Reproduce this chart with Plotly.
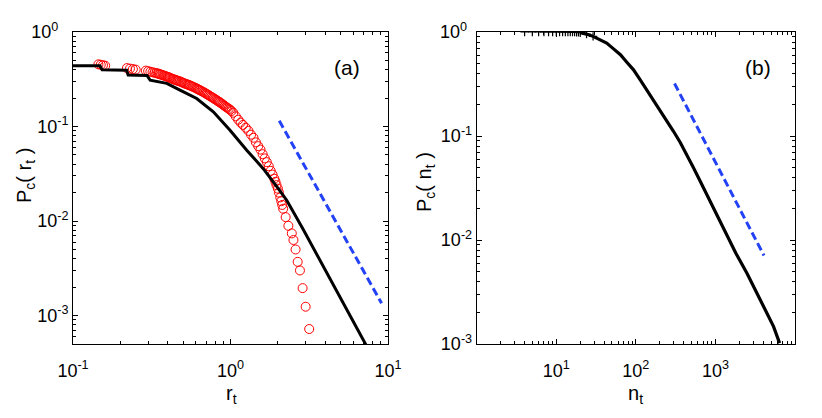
import plotly.graph_objects as go

# ---------------- Panel (a) data ----------------
rt_line = [0.100, 0.148, 0.153, 0.219, 0.224, 0.295, 0.309, 0.394, 0.478, 0.610,
           0.778, 0.993, 1.268, 1.614, 1.995, 2.275, 2.897, 3.981, 5.623, 7.244]
pc_rt_line = [0.440, 0.440, 0.398, 0.394, 0.350, 0.347, 0.309, 0.286, 0.243, 0.198,
              0.143, 0.0914, 0.0561, 0.0358, 0.0224, 0.0166, 0.00813, 0.00309, 0.00107, 0.00049]

rt_circ = [0.145, 0.150, 0.155, 0.160,
           0.220, 0.230, 0.240, 0.250,
           0.290, 0.300, 0.310, 0.320,
           0.330, 0.338, 0.345, 0.350, 0.356, 0.363, 0.370, 0.378, 0.385, 0.392,
           0.400, 0.407, 0.413, 0.421, 0.430, 0.437, 0.445, 0.452, 0.460, 0.468,
           0.477, 0.486, 0.495, 0.505, 0.515, 0.525, 0.535, 0.544, 0.553, 0.564,
           0.575, 0.588, 0.600, 0.610, 0.620, 0.630, 0.640, 0.652, 0.665, 0.678,
           0.690, 0.702, 0.715, 0.728, 0.741, 0.755, 0.770, 0.785, 0.800, 0.815,
           0.830, 0.843, 0.857, 0.873, 0.890, 0.905, 0.920, 0.937, 0.955, 0.974,
           0.993, 1.015, 1.040, 1.080, 1.120, 1.160, 1.200, 1.250, 1.300, 1.350,
           1.400, 1.450, 1.500, 1.550, 1.600, 1.650, 1.700, 1.750, 1.800, 1.850,
           1.900, 1.930, 1.960, 2.000, 2.030, 2.070, 2.100, 2.130, 2.160, 2.240,
           2.330, 2.450, 2.510, 2.590, 2.670, 2.760, 2.870, 3.000, 3.160]
pc_rt_circ = [0.455, 0.450, 0.445, 0.440,
              0.415, 0.410, 0.405, 0.400,
              0.390, 0.385, 0.380, 0.375,
              0.370, 0.367, 0.364, 0.361, 0.358, 0.354, 0.350, 0.346, 0.342, 0.338,
              0.335, 0.331, 0.327, 0.323, 0.318, 0.315, 0.312, 0.309, 0.306, 0.303,
              0.300, 0.296, 0.292, 0.288, 0.284, 0.281, 0.278, 0.275, 0.272, 0.268,
              0.264, 0.260, 0.256, 0.252, 0.249, 0.245, 0.242, 0.238, 0.234, 0.230,
              0.226, 0.222, 0.218, 0.214, 0.210, 0.206, 0.202, 0.198, 0.194, 0.190,
              0.186, 0.183, 0.180, 0.176, 0.172, 0.168, 0.165, 0.161, 0.158, 0.154,
              0.151, 0.146, 0.140, 0.128, 0.118, 0.110, 0.104, 0.097, 0.090, 0.082,
              0.076, 0.068, 0.062, 0.057, 0.051, 0.046, 0.042, 0.038, 0.034, 0.031,
              0.028, 0.026, 0.024, 0.022, 0.020, 0.0178, 0.0162, 0.0148, 0.0135, 0.0110,
              0.0089, 0.0074, 0.0063, 0.0050, 0.0037, 0.0030, 0.00195, 0.00124, 0.00072]

guide_a_x = [2.04, 9.1]
guide_a_y = [0.115, 0.00135]

# ---------------- Panel (b) data ----------------
nt = [4, 5, 6, 7, 8, 9, 10, 11, 12, 13, 14, 15, 16, 17, 18, 19, 20,
      24, 29, 35, 43, 52, 64, 78, 93, 113, 137, 167, 202, 245, 297, 360, 438, 530, 644,
      800, 1000, 1396, 1800, 2490, 3200, 4027, 5380, 6400]
pc_nt = [1.0, 1.0, 1.0, 1.0, 1.0, 1.0, 1.0, 1.0, 1.0, 1.0, 1.0, 1.0, 0.999, 0.998, 0.996, 0.993, 0.985,
         0.955, 0.908, 0.849, 0.783, 0.692, 0.605, 0.507, 0.435, 0.349, 0.279, 0.223, 0.179, 0.141,
         0.111, 0.0871, 0.0661, 0.0495, 0.0367,
         0.0263, 0.0186, 0.0110, 0.0075, 0.00479, 0.00331, 0.00229, 0.00147, 0.00102]

guide_b_x = [306, 4070]
guide_b_y = [0.32, 0.0071]

# ---------------- Tick labels ----------------
xa_tickvals = [0.1, 1, 10]
xa_ticktext = ["10<sup>-1</sup>", "10<sup>0</sup>", "10<sup>1</sup>"]
ya_tickvals = [0.001, 0.01, 0.1, 1]
ya_ticktext = ["10<sup>-3</sup>", "10<sup>-2</sup>", "10<sup>-1</sup>", "10<sup>0</sup>&nbsp;&nbsp;"]
xb_tickvals = [10, 100, 1000]
xb_ticktext = ["10<sup>1</sup>", "10<sup>2</sup>", "10<sup>3</sup>"]
yb_tickvals = [0.001, 0.01, 0.1, 1]
yb_ticktext = ["10<sup>-3</sup>", "10<sup>-2</sup>", "10<sup>-1</sup>", "10<sup>0</sup>&nbsp;"]


def minor_vals(lo_exp, hi_exp):
    return [m * 10.0 ** e for e in range(lo_exp, hi_exp) for m in range(2, 10)]


FONT = "Liberation Sans, Arial, sans-serif"
BLUE = "rgb(35,65,245)"
W, H = 822, 418

fig = go.Figure()

# Panel (a)
fig.add_trace(go.Scatter(x=rt_circ, y=pc_rt_circ, mode="markers",
                         marker=dict(symbol="circle-open", size=9, color="red",
                                     line=dict(width=1, color="red")),
                         xaxis="x", yaxis="y", showlegend=False))
fig.add_trace(go.Scatter(x=rt_line, y=pc_rt_line, mode="lines",
                         line=dict(color="black", width=3),
                         xaxis="x", yaxis="y", showlegend=False))
fig.add_trace(go.Scatter(x=guide_a_x, y=guide_a_y, mode="lines",
                         line=dict(color=BLUE, width=3, dash="8px,4px"),
                         xaxis="x", yaxis="y", showlegend=False))

# Panel (b)
fig.add_trace(go.Scatter(x=nt[16:], y=pc_nt[16:], mode="lines",
                         line=dict(color="black", width=3.2),
                         xaxis="x2", yaxis="y2", showlegend=False))
fig.add_trace(go.Scatter(x=nt[:19], y=pc_nt[:19], mode="markers",
                         marker=dict(symbol="cross-thin", size=6,
                                     line=dict(width=1.2, color="black")),
                         xaxis="x2", yaxis="y2", showlegend=False))
fig.add_trace(go.Scatter(x=guide_b_x, y=guide_b_y, mode="lines",
                         line=dict(color=BLUE, width=3, dash="8px,4px"),
                         xaxis="x2", yaxis="y2", showlegend=False))


def axis_common(minor_tickvals, standoff):
    return dict(type="log", showline=True, linecolor="black", linewidth=1,
                mirror="allticks", ticks="inside", ticklen=5, tickcolor="black",
                tickwidth=1, showgrid=False, zeroline=False, automargin=False,
                ticklabelstandoff=standoff,
                tickfont=dict(family=FONT, size=18, color="black"),
                minor=dict(tickvals=minor_tickvals, ticks="inside", ticklen=3,
                           tickwidth=1, tickcolor="black", showgrid=False))


xa = axis_common(minor_vals(-1, 1), 10); xa.update(domain=[73 / W, 388 / W], range=[-1, 1],
                                                   tickvals=xa_tickvals, ticktext=xa_ticktext, anchor="y")
ya = axis_common(minor_vals(-4, 0), 0); ya.update(domain=[74 / H, 386 / H], range=[-3.301, 0],
                                                  tickvals=ya_tickvals, ticktext=ya_ticktext, anchor="x")
xb = axis_common(minor_vals(0, 4), 10); xb.update(domain=[476.7 / W, 795 / W], range=[0, 4],
                                                  tickvals=xb_tickvals, ticktext=xb_ticktext, anchor="y2")
yb = axis_common(minor_vals(-3, 0), 0); yb.update(domain=[74 / H, 386 / H], range=[-3, 0],
                                                  tickvals=yb_tickvals, ticktext=yb_ticktext, anchor="x2")

ann_font = dict(family=FONT, size=20, color="black")
annotations = [
    dict(text="(a)", x=347 / W, y=1 - 67 / H, xref="paper", yref="paper",
         showarrow=False, font=dict(family=FONT, size=21, color="black"),
         xanchor="center", yanchor="middle"),
    dict(text="(b)", x=758 / W, y=1 - 67 / H, xref="paper", yref="paper",
         showarrow=False, font=dict(family=FONT, size=21, color="black"),
         xanchor="center", yanchor="middle"),
    dict(text="r<sub>t</sub>", x=231 / W, y=1 - 394 / H, xref="paper", yref="paper",
         showarrow=False, font=ann_font, xanchor="center", yanchor="middle"),
    dict(text="n<sub>t</sub>", x=635 / W, y=1 - 394 / H, xref="paper", yref="paper",
         showarrow=False, font=ann_font, xanchor="center", yanchor="middle"),
    dict(text="P<sub>c</sub>( r<sub>t</sub> )", x=25 / W, y=1 - 176 / H, xref="paper", yref="paper",
         showarrow=False, font=ann_font, textangle=-90, xanchor="center", yanchor="middle"),
    dict(text="P<sub>c</sub>( n<sub>t</sub> )", x=426 / W, y=1 - 182 / H, xref="paper", yref="paper",
         showarrow=False, font=ann_font, textangle=-90, xanchor="center", yanchor="middle"),
]

fig.update_layout(width=W, height=H, margin=dict(l=0, r=0, t=0, b=0, autoexpand=False),
                  paper_bgcolor="white", plot_bgcolor="white",
                  xaxis=xa, yaxis=ya, xaxis2=xb, yaxis2=yb,
                  annotations=annotations, font=dict(family=FONT))

fig.write_html("out.html", config={"displayModeBar": False},
               post_script="document.body.style.margin='0px';")
